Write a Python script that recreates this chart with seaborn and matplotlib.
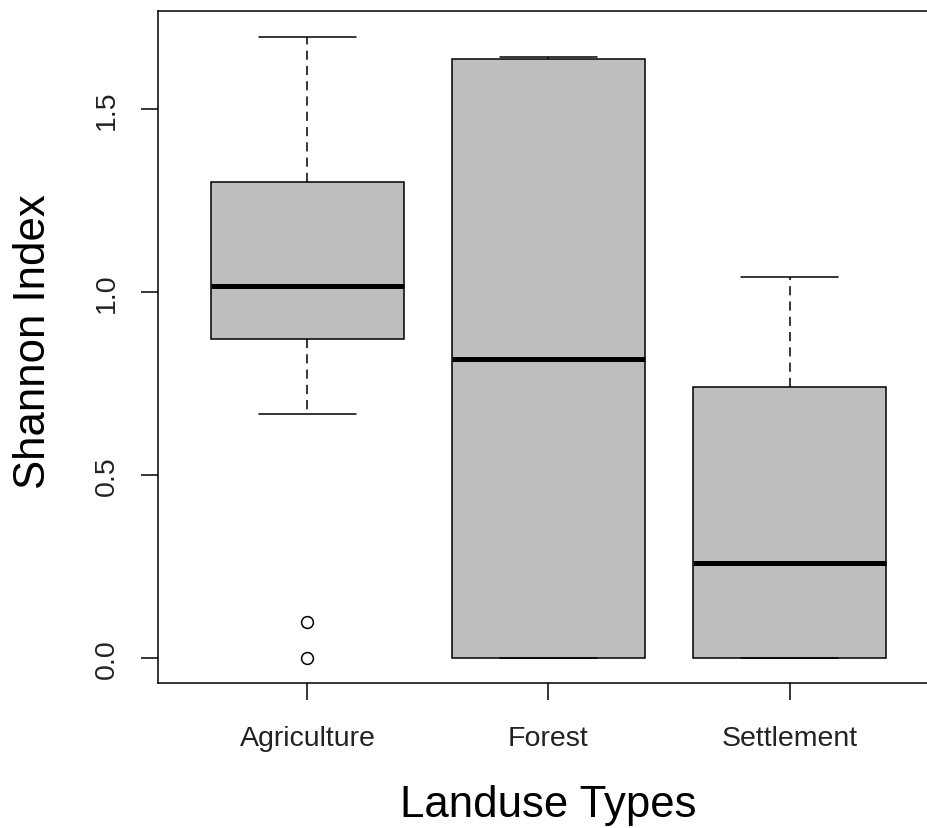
import numpy as np
import pandas as pd
import matplotlib
matplotlib.use("Agg")
import matplotlib.pyplot as plt
import seaborn as sns

# ---- data ----
categories = ["Agriculture", "Forest", "Settlement"]
agriculture = [0.0, 0.10, 0.668, 0.873, 0.90, 0.95, 1.016, 1.05, 1.20, 1.301, 1.40, 1.55, 1.697]
forest = [0.0, 0.0, 0.818, 1.636, 1.642]
settlement = [0.0, 0.0, 0.261, 0.742, 1.042]
y_ticks = [0.0, 0.5, 1.0, 1.5]
y_tick_labels = ["0.0", "0.5", "1.0", "1.5"]

df = pd.DataFrame({
    "Landuse": (["Agriculture"] * len(agriculture) + ["Forest"] * len(forest)
                + ["Settlement"] * len(settlement)),
    "Shannon": agriculture + forest + settlement,
})

sns.set_theme(style="white")
plt.rcParams["font.family"] = ["Liberation Sans", "DejaVu Sans"]

fig = plt.figure(figsize=(9.28, 8.29), dpi=100)
ax = fig.add_axes([158 / 928, (829 - 684) / 829, 781 / 928, 672 / 829])

sns.boxplot(
    data=df, x="Landuse", y="Shannon", order=categories, ax=ax,
    color="#BEBEBE", saturation=1, width=0.8, linecolor="black", linewidth=1.1,
    whis=1.5,
    boxprops=dict(edgecolor="black", linewidth=1.1),
    whiskerprops=dict(color="black", linewidth=1.1, linestyle=(0, (6.0, 4.0))),
    capprops=dict(color="black", linewidth=1.1),
    medianprops=dict(color="black", linewidth=3.6),
    flierprops=dict(marker="o", markerfacecolor="none", markeredgecolor="black",
                    markersize=8.5, markeredgewidth=1.1),
)

ax.set_xlim(-0.62, 2.62)
ax.set_ylim(-0.068, 1.768)
ax.set_yticks(y_ticks)
ax.set_yticklabels(y_tick_labels)

for s in ax.spines.values():
    s.set_visible(True)
    s.set_color("black")
    s.set_linewidth(1.1)

ax.tick_params(axis="both", direction="out", length=12.5, width=1.1, color="black",
               labelsize=20.5, labelcolor="#222222", bottom=True, left=True)
ax.tick_params(axis="x", pad=18)
ax.tick_params(axis="y", labelrotation=90, pad=15)
for lab in ax.get_yticklabels():
    lab.set_va("center")

ax.set_xlabel("Landuse Types", fontsize=31.5, color="black")
ax.set_ylabel("Shannon Index", fontsize=31.5, color="black")
ax.xaxis.set_label_coords(0.5, -0.150)
ax.yaxis.set_label_coords(-0.133, 0.51)
ax.grid(False)

fig.savefig("out.png", dpi=100, facecolor="white")
